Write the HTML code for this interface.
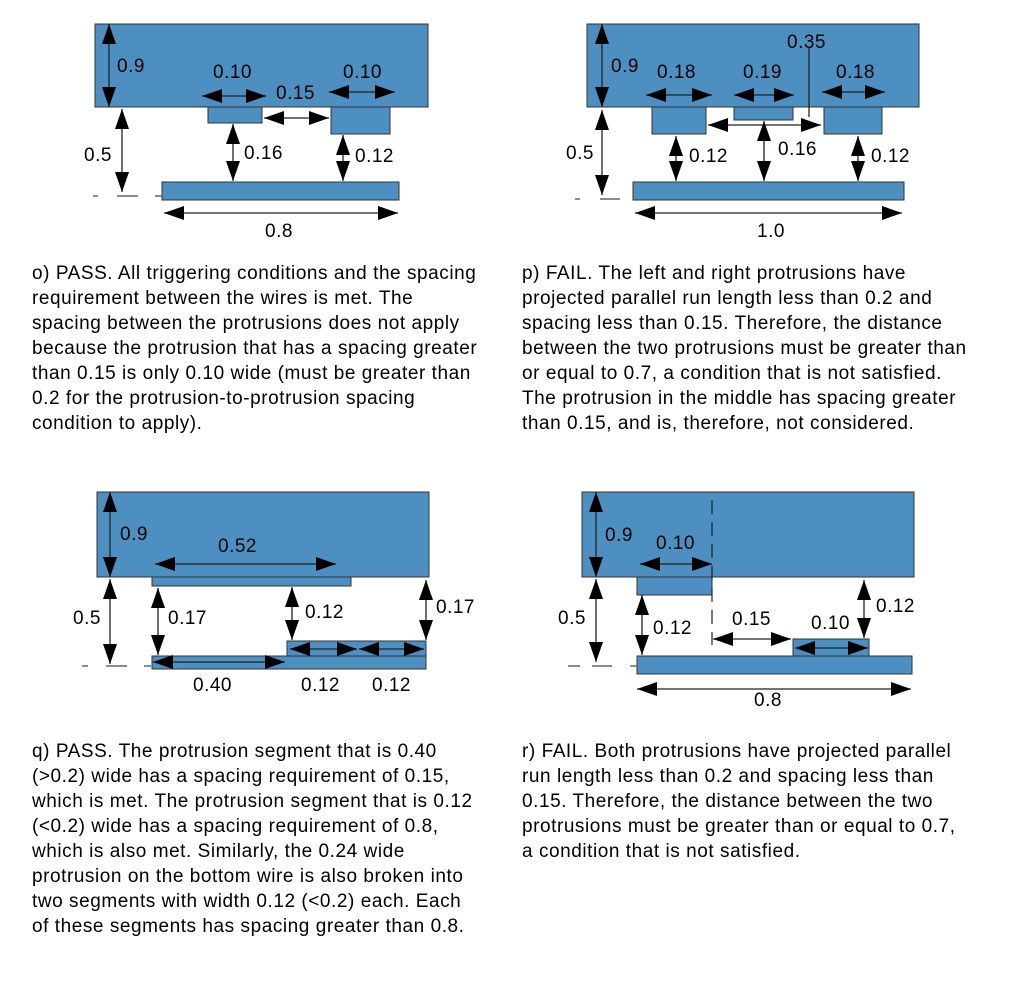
<!DOCTYPE html>
<html><head><meta charset="utf-8"><style>
html,body{margin:0;padding:0;background:#fff;}
svg{display:block;}
text{font-family:"Liberation Sans",Arial,sans-serif;fill:#000;}
.l{font-size:19px;letter-spacing:0.5px;}
.b{font-size:19px;letter-spacing:0.55px;}
.r{fill:#4d8fc1;stroke:#333;stroke-width:1;}
.a{stroke:#222;stroke-width:1.3;fill:none;marker-start:url(#h);marker-end:url(#h);}
.d{stroke:#666;stroke-width:1.5;fill:none;}
</style></head><body>
<svg width="1013" height="989" viewBox="0 0 1013 989" xmlns="http://www.w3.org/2000/svg">
<defs>
<marker id="h" markerUnits="userSpaceOnUse" markerWidth="20" markerHeight="14" refX="20" refY="7" orient="auto-start-reverse">
<path d="M0,0 L20,7 L0,14 z" fill="#000"/>
</marker>
</defs>

<!-- o -->
<rect class="r" x="95" y="24" width="333" height="83"/>
<rect class="r" x="208" y="107" width="54" height="16"/>
<rect class="r" x="331" y="107" width="59" height="27"/>
<rect class="r" x="162" y="182" width="237" height="18"/>
<line class="a" x1="109" y1="24" x2="109" y2="107"/>
<text class="l" x="117" y="72">0.9</text>
<line class="a" x1="122" y1="109" x2="122" y2="192"/>
<text class="l" x="84" y="161">0.5</text>
<path class="d" d="M93 196H98M117 196H138M155 196H162"/>
<line class="a" x1="202" y1="96" x2="266" y2="96"/>
<text class="l" x="213" y="78">0.10</text>
<line class="a" x1="264" y1="118" x2="329" y2="118"/>
<text class="l" x="276" y="99">0.15</text>
<line class="a" x1="329" y1="92" x2="395" y2="92"/>
<text class="l" x="343" y="78">0.10</text>
<line class="a" x1="233" y1="124" x2="233" y2="181"/>
<text class="l" x="244" y="159">0.16</text>
<line class="a" x1="343" y1="135" x2="343" y2="181"/>
<text class="l" x="355" y="162">0.12</text>
<line class="a" x1="164" y1="213" x2="398" y2="213"/>
<text class="l" x="265" y="237">0.8</text>

<!-- p -->
<rect class="r" x="587" y="24" width="332" height="83"/>
<rect class="r" x="652" y="107" width="54" height="27"/>
<rect class="r" x="734" y="107" width="59" height="13"/>
<rect class="r" x="824" y="107" width="58" height="27"/>
<rect class="r" x="633" y="182" width="271" height="18"/>
<line class="a" x1="602" y1="24" x2="602" y2="107"/>
<text class="l" x="611" y="72">0.9</text>
<line class="a" x1="602" y1="110" x2="602" y2="195"/>
<text class="l" x="566" y="159">0.5</text>
<path class="d" d="M575 199H580M600 199H620"/>
<line class="a" x1="646" y1="95" x2="712" y2="95"/>
<text class="l" x="657" y="78">0.18</text>
<line class="a" x1="734" y1="95" x2="794" y2="95"/>
<text class="l" x="743" y="78">0.19</text>
<line class="a" x1="822" y1="92" x2="885" y2="92"/>
<text class="l" x="836" y="78">0.18</text>
<text class="l" x="787" y="48">0.35</text>
<line x1="809" y1="48" x2="809" y2="117" stroke="#222" stroke-width="1.3"/>
<line class="a" x1="708" y1="125" x2="821" y2="125"/>
<line class="a" x1="676" y1="136" x2="676" y2="181"/>
<text class="l" x="689" y="162">0.12</text>
<line class="a" x1="764" y1="121" x2="764" y2="181"/>
<text class="l" x="778" y="155">0.16</text>
<line class="a" x1="858" y1="136" x2="858" y2="181"/>
<text class="l" x="871" y="162">0.12</text>
<line class="a" x1="635" y1="213" x2="902" y2="213"/>
<text class="l" x="757" y="237">1.0</text>

<!-- q -->
<rect class="r" x="97" y="492" width="332" height="85"/>
<rect class="r" x="152" y="577" width="199" height="9"/>
<rect class="r" x="287" y="641" width="139" height="15"/>
<rect class="r" x="152" y="656" width="274" height="13"/>
<line class="a" x1="110" y1="492" x2="110" y2="577"/>
<text class="l" x="120" y="540">0.9</text>
<line class="a" x1="155" y1="564" x2="336" y2="564"/>
<text class="l" x="218" y="552">0.52</text>
<line class="a" x1="110" y1="579" x2="110" y2="664"/>
<text class="l" x="73" y="624">0.5</text>
<path class="d" d="M82 666H88M106 666H127M144 666H151"/>
<line class="a" x1="158" y1="588" x2="158" y2="655"/>
<text class="l" x="168" y="624">0.17</text>
<line class="a" x1="292" y1="587" x2="292" y2="640"/>
<text class="l" x="305" y="618">0.12</text>
<line class="a" x1="426" y1="580" x2="426" y2="640"/>
<text class="l" x="436" y="613">0.17</text>
<line class="a" x1="153" y1="662" x2="285" y2="662"/>
<text class="l" x="193" y="691">0.40</text>
<line class="a" x1="290" y1="649" x2="357" y2="649"/>
<line class="a" x1="359" y1="649" x2="424" y2="649"/>
<text class="l" x="301" y="691">0.12</text>
<text class="l" x="372" y="691">0.12</text>

<!-- r -->
<rect class="r" x="582" y="492" width="332" height="85"/>
<rect class="r" x="637" y="577" width="75" height="18"/>
<rect class="r" x="793" y="639" width="76" height="17"/>
<rect class="r" x="637" y="656" width="275" height="18"/>
<line x1="712" y1="500" x2="712" y2="645" stroke="#222" stroke-width="1.2" stroke-dasharray="14,8"/>
<line class="a" x1="596" y1="492" x2="596" y2="577"/>
<text class="l" x="605" y="541">0.9</text>
<line class="a" x1="640" y1="564" x2="712" y2="564"/>
<text class="l" x="656" y="549">0.10</text>
<line class="a" x1="596" y1="579" x2="596" y2="662"/>
<text class="l" x="558" y="624">0.5</text>
<path class="d" d="M568 666H580M592 666H612M630 666H637"/>
<line class="a" x1="642" y1="595" x2="642" y2="655"/>
<text class="l" x="653" y="634">0.12</text>
<line class="a" x1="713" y1="639" x2="791" y2="639"/>
<text class="l" x="732" y="625">0.15</text>
<line class="a" x1="795" y1="648" x2="868" y2="648"/>
<text class="l" x="811" y="629">0.10</text>
<line class="a" x1="864" y1="580" x2="864" y2="638"/>
<text class="l" x="876" y="612">0.12</text>
<line class="a" x1="637" y1="689" x2="911" y2="689"/>
<text class="l" x="754" y="706">0.8</text>

<!-- captions -->
<text class="b" x="32" y="279">o) PASS. All triggering conditions and the spacing</text>
<text class="b" x="32" y="304">requirement between the wires is met. The</text>
<text class="b" x="32" y="329">spacing between the protrusions does not apply</text>
<text class="b" x="32" y="354">because the protrusion that has a spacing greater</text>
<text class="b" x="32" y="379">than 0.15 is only 0.10 wide (must be greater than</text>
<text class="b" x="32" y="404">0.2 for the protrusion-to-protrusion spacing</text>
<text class="b" x="32" y="429">condition to apply).</text>

<text class="b" x="522" y="279">p) FAIL. The left and right protrusions have</text>
<text class="b" x="522" y="304">projected parallel run length less than 0.2 and</text>
<text class="b" x="522" y="329">spacing less than 0.15. Therefore, the distance</text>
<text class="b" x="522" y="354">between the two protrusions must be greater than</text>
<text class="b" x="522" y="379">or equal to 0.7, a condition that is not satisfied.</text>
<text class="b" x="522" y="404">The protrusion in the middle has spacing greater</text>
<text class="b" x="522" y="429">than 0.15, and is, therefore, not considered.</text>

<text class="b" x="32" y="757">q) PASS. The protrusion segment that is 0.40</text>
<text class="b" x="32" y="782">(&gt;0.2) wide has a spacing requirement of 0.15,</text>
<text class="b" x="32" y="807">which is met. The protrusion segment that is 0.12</text>
<text class="b" x="32" y="832">(&lt;0.2) wide has a spacing requirement of 0.8,</text>
<text class="b" x="32" y="857">which is also met. Similarly, the 0.24 wide</text>
<text class="b" x="32" y="882">protrusion on the bottom wire is also broken into</text>
<text class="b" x="32" y="907">two segments with width 0.12 (&lt;0.2) each. Each</text>
<text class="b" x="32" y="932">of these segments has spacing greater than 0.8.</text>

<text class="b" x="522" y="757">r) FAIL. Both protrusions have projected parallel</text>
<text class="b" x="522" y="782">run length less than 0.2 and spacing less than</text>
<text class="b" x="522" y="807">0.15. Therefore, the distance between the two</text>
<text class="b" x="522" y="832">protrusions must be greater than or equal to 0.7,</text>
<text class="b" x="522" y="857">a condition that is not satisfied.</text>
</svg>
</body></html>
